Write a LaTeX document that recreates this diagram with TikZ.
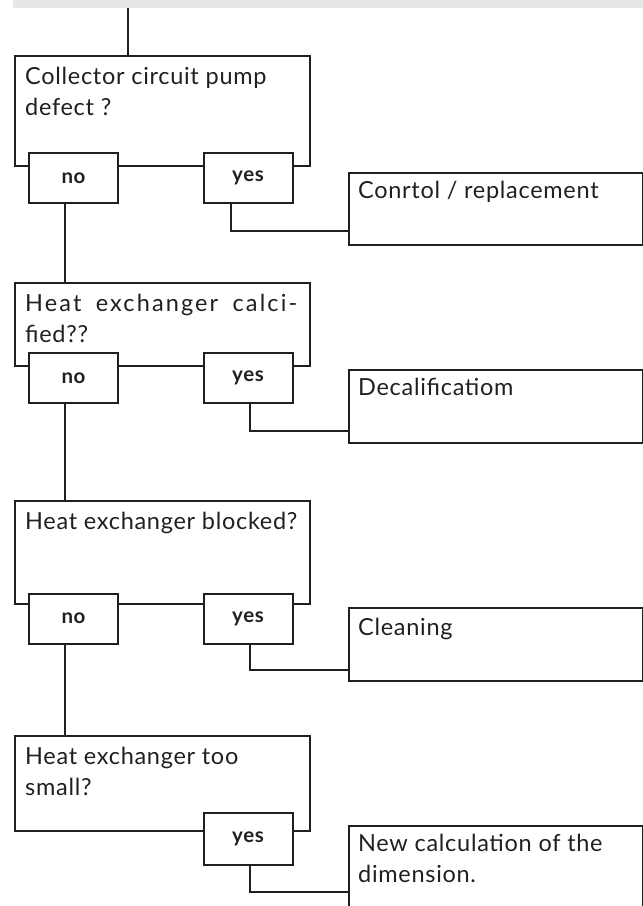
\documentclass[tikz,border=0pt]{standalone}
\usepackage{fontspec}
\setmainfont{Lato}[LetterSpace=3.0]
\usepackage{tikz}
\usetikzlibrary{positioning}
\definecolor{trait}{RGB}{35,31,32}
\definecolor{bandeau}{RGB}{230,231,232}
\newcommand{\qfont}{\fontsize{23.5}{31}\selectfont}
\newcommand{\cfont}{\fontsize{20.5}{22}\selectfont\bfseries}
\tikzstyle{question}=[
        draw=trait,
        line width=2pt,
        rectangle,
        anchor=north west,
        minimum width=295pt,
        inner sep=0pt
]
\tikzstyle{answer}=[
        draw=trait,
        line width=2pt,
        rectangle,
        anchor=north west,
        minimum width=294pt,
        inner sep=0pt
]
\tikzstyle{qtext}=[anchor=north west,align=left,inner sep=0pt,xshift=11pt,yshift=-12pt,font=\qfont,text=trait]
\tikzstyle{choice}=[rectangle,draw=trait,line width=2pt,fill=white,minimum width=89pt,minimum height=50pt,inner sep=0pt,font=\cfont,text=trait]
\tikzstyle{link}=[draw=trait,line width=2pt]

\begin{document}
\begin{tikzpicture}[x=1pt,y=-1pt]
\useasboundingbox (0,0) rectangle (643,906);
\fill[bandeau] (13,0) rectangle (643,8);
\coordinate (start) at (128,8);
\node[question, minimum height=110pt, label={[qtext]north west:{Collector circuit pump\\defect ?}}] (q1) at (14,55) {};
\node[question, minimum height=83pt, label={[qtext]north west:{\makebox[272pt][s]{\addfontfeature{LetterSpace=9.0}Heat exchanger calci-}\\fied??}}] (q2) at (14,282) {};
\node[question, minimum height=103pt, label={[qtext]north west:{Heat exchanger blocked?}}] (q3) at (14,500) {};
\node[question, minimum height=95pt, label={[qtext]north west:{Heat exchanger too\\small?}}] (q4) at (14,735) {};
\node[choice] (no1) at (73.5,178) {no};
\node[choice] (yes1) at (248,178) {yes};
\node[choice] (no2) at (73.5,378) {no};
\node[choice] (yes2) at (248,378) {yes};
\node[choice] (no3) at (73.5,618.5) {no};
\node[choice] (yes3) at (248,618.5) {yes};
\node[choice, minimum height=52pt] (yes4) at (248,839) {yes};
\node[answer, minimum height=72pt, label={[qtext,xshift=-1pt,yshift=3pt]north west:{Conrtol / replacement}}] (a1) at (348,172) {};
\node[answer, minimum height=73pt, label={[qtext,xshift=-1pt,yshift=3pt]north west:{Decalificatiom}}] (a2) at (348,369) {};
\node[answer, minimum height=73pt, label={[qtext,xshift=-1pt,yshift=1pt]north west:{Cleaning}}] (a3) at (348,607) {};
\node[answer, minimum height=90pt, label={[qtext,xshift=-1pt,yshift=3pt]north west:{New calculation of the\\dimension.}}] (a4) at (348,825) {};
% liaisons
\draw[link] (start) -- (start |- q1.north);
\draw[link] ([xshift=-8.5pt]no1.south) -- ([xshift=-8.5pt]no1.south |- q2.north);
\draw[link] ([xshift=-8.5pt]no2.south) -- ([xshift=-8.5pt]no2.south |- q3.north);
\draw[link] ([xshift=-8.5pt]no3.south) -- ([xshift=-8.5pt]no3.south |- q4.north);
\draw[link] ([xshift=-17pt]yes1.south) |- ([yshift=-22pt]a1.west);
\draw[link] ([xshift=2pt]yes2.south) |- ([yshift=-24.5pt]a2.west);
\draw[link] ([xshift=2pt]yes3.south) |- ([yshift=-25.5pt]a3.west);
\draw[link] ([xshift=2pt]yes4.south) |- ([yshift=-21pt]a4.west);
\end{tikzpicture}
\end{document}
